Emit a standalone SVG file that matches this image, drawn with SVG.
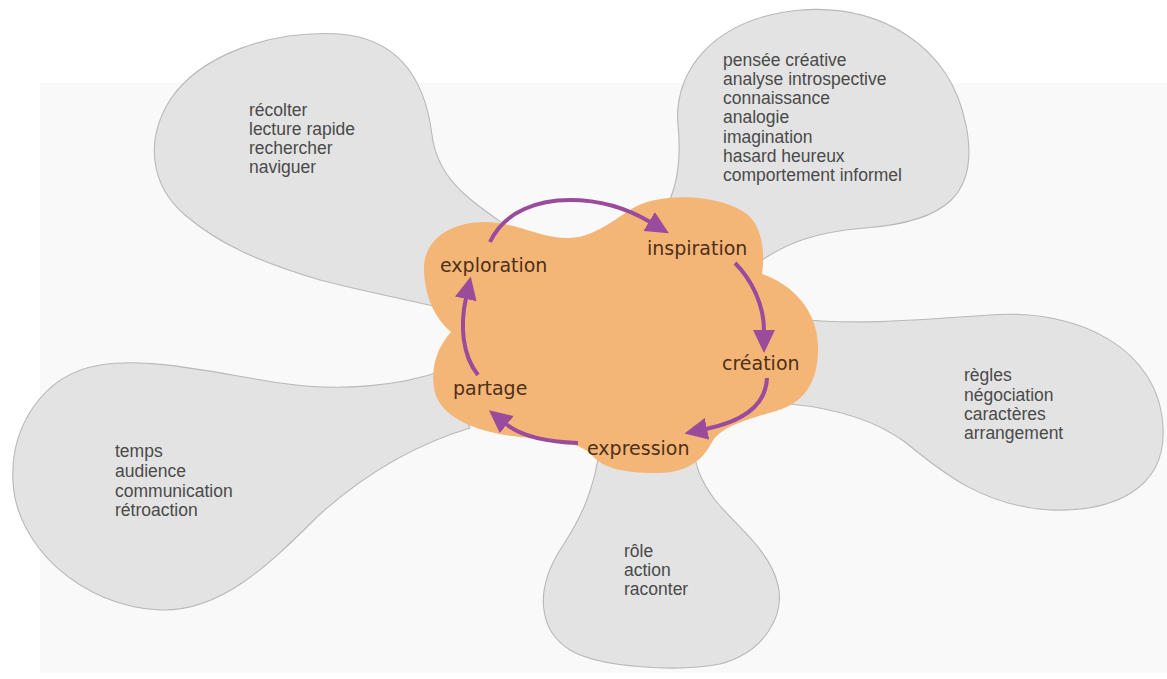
<svg xmlns="http://www.w3.org/2000/svg" width="1167" height="679" viewBox="0 0 1167 679">
<defs>
<style>
.petal{fill:#e3e3e3;stroke:#b8b8b8;stroke-width:1.1}
.ptxt{font-family:"Liberation Sans",Arial,sans-serif;font-size:17.5px;fill:#4a4a4a}
.ctxt{font-family:"DejaVu Sans",Verdana,sans-serif;font-size:19px;fill:#4e2f17}
.arrow{fill:none;stroke:#9a4b9c;stroke-width:4;stroke-linecap:butt}
</style>
<marker id="head" markerUnits="userSpaceOnUse" markerWidth="26" markerHeight="24" refX="1" refY="11" orient="auto">
<path d="M0,0 L23,11 L0,22 Z" fill="#9a4b9c"/>
</marker>
</defs>
<rect x="0" y="0" width="1167" height="679" fill="#ffffff"/>
<rect x="40" y="83" width="1127" height="590" fill="#f9f9f9"/>

<g id="petal-exploration">
<path class="petal" d="M 505,225 C 470,200 438,180 432,135 C 427,95 410,40 340,34 C 270,30 200,55 170,100 C 145,140 150,185 185,215 C 220,245 260,262 320,280 C 370,293 410,300 450,310 Z"/>
<text class="ptxt" x="249" y="116">récolter</text>
<text class="ptxt" x="249" y="135">lecture rapide</text>
<text class="ptxt" x="249" y="154">rechercher</text>
<text class="ptxt" x="249" y="173">naviguer</text>
</g>

<g id="petal-inspiration">
<path class="petal" d="M 650,235 C 672,205 683,175 678,125 C 673,70 715,18 800,10 C 880,4 950,45 966,125 C 980,195 945,222 865,228 C 815,232 785,243 755,265 Z"/>
<text class="ptxt" x="723" y="66">pensée créative</text>
<text class="ptxt" x="723" y="85">analyse introspective</text>
<text class="ptxt" x="723" y="104">connaissance</text>
<text class="ptxt" x="723" y="123">analogie</text>
<text class="ptxt" x="723" y="143">imagination</text>
<text class="ptxt" x="723" y="162">hasard heureux</text>
<text class="ptxt" x="723" y="181">comportement informel</text>
</g>

<g id="petal-creation">
<path class="petal" d="M 790,318 C 850,326 920,320 990,315 C 1080,308 1160,350 1163,428 C 1166,490 1112,512 1050,510 C 985,506 945,475 905,442 C 872,418 832,408 790,404 Z"/>
<text class="ptxt" x="964" y="381">règles</text>
<text class="ptxt" x="964" y="401">négociation</text>
<text class="ptxt" x="964" y="420">caractères</text>
<text class="ptxt" x="964" y="439">arrangement</text>
</g>

<g id="petal-expression">
<path class="petal" d="M 600,445 C 595,490 580,520 560,550 C 535,590 538,630 570,650 C 600,668 680,672 720,664 C 765,652 785,615 778,585 C 770,550 735,525 715,500 C 700,480 695,465 693,445 Z"/>
<text class="ptxt" x="624" y="557">rôle</text>
<text class="ptxt" x="624" y="576">action</text>
<text class="ptxt" x="624" y="595">raconter</text>
</g>

<g id="petal-partage">
<path class="petal" d="M 445,370 C 400,386 340,392 280,383 C 210,372 150,357 100,365 C 40,375 10,430 13,482 C 16,545 80,606 160,610 C 220,612 268,566 318,516 C 360,478 410,446 470,428 Z"/>
<text class="ptxt" x="115" y="457">temps</text>
<text class="ptxt" x="115" y="477">audience</text>
<text class="ptxt" x="115" y="497">communication</text>
<text class="ptxt" x="115" y="516">rétroaction</text>
</g>

<g id="cycle-cloud">
<path fill="#f4b677" d="M 424,272 C 422,240 450,222 485,222 C 515,222 538,237 565,238 C 592,239 610,222 635,207 C 662,192 722,194 748,215 C 763,228 765,255 762,274 C 792,284 817,310 818,345 C 819,380 806,402 776,411 C 746,420 722,426 712,442 C 700,466 680,474 650,473 C 616,472 600,466 590,453 C 575,441 550,439 520,437 C 480,433 446,420 436,396 C 428,370 438,346 451,332 C 434,318 425,295 424,272 Z"/>
</g>

<g id="connectors">
<path class="arrow" marker-end="url(#head)" d="M 490,242 C 505,210 540,200 570,200 C 605,200 630,210 650,222"/>
<path class="arrow" marker-end="url(#head)" d="M 735,263 C 752,280 764,305 764,331"/>
<path class="arrow" marker-end="url(#head)" d="M 767,378 C 766,405 745,421 706,429"/>
<path class="arrow" marker-end="url(#head)" d="M 578,443 C 548,442 522,437 506,424"/>
<path class="arrow" marker-end="url(#head)" d="M 478,375 C 462,355 460,325 466,298"/>
</g>

<g id="labels">
<text class="ctxt" x="440" y="272">exploration</text>
<text class="ctxt" x="647" y="255">inspiration</text>
<text class="ctxt" x="722" y="370">création</text>
<text class="ctxt" x="453" y="395">partage</text>
<text class="ctxt" x="587" y="455">expression</text>
</g>
</svg>
